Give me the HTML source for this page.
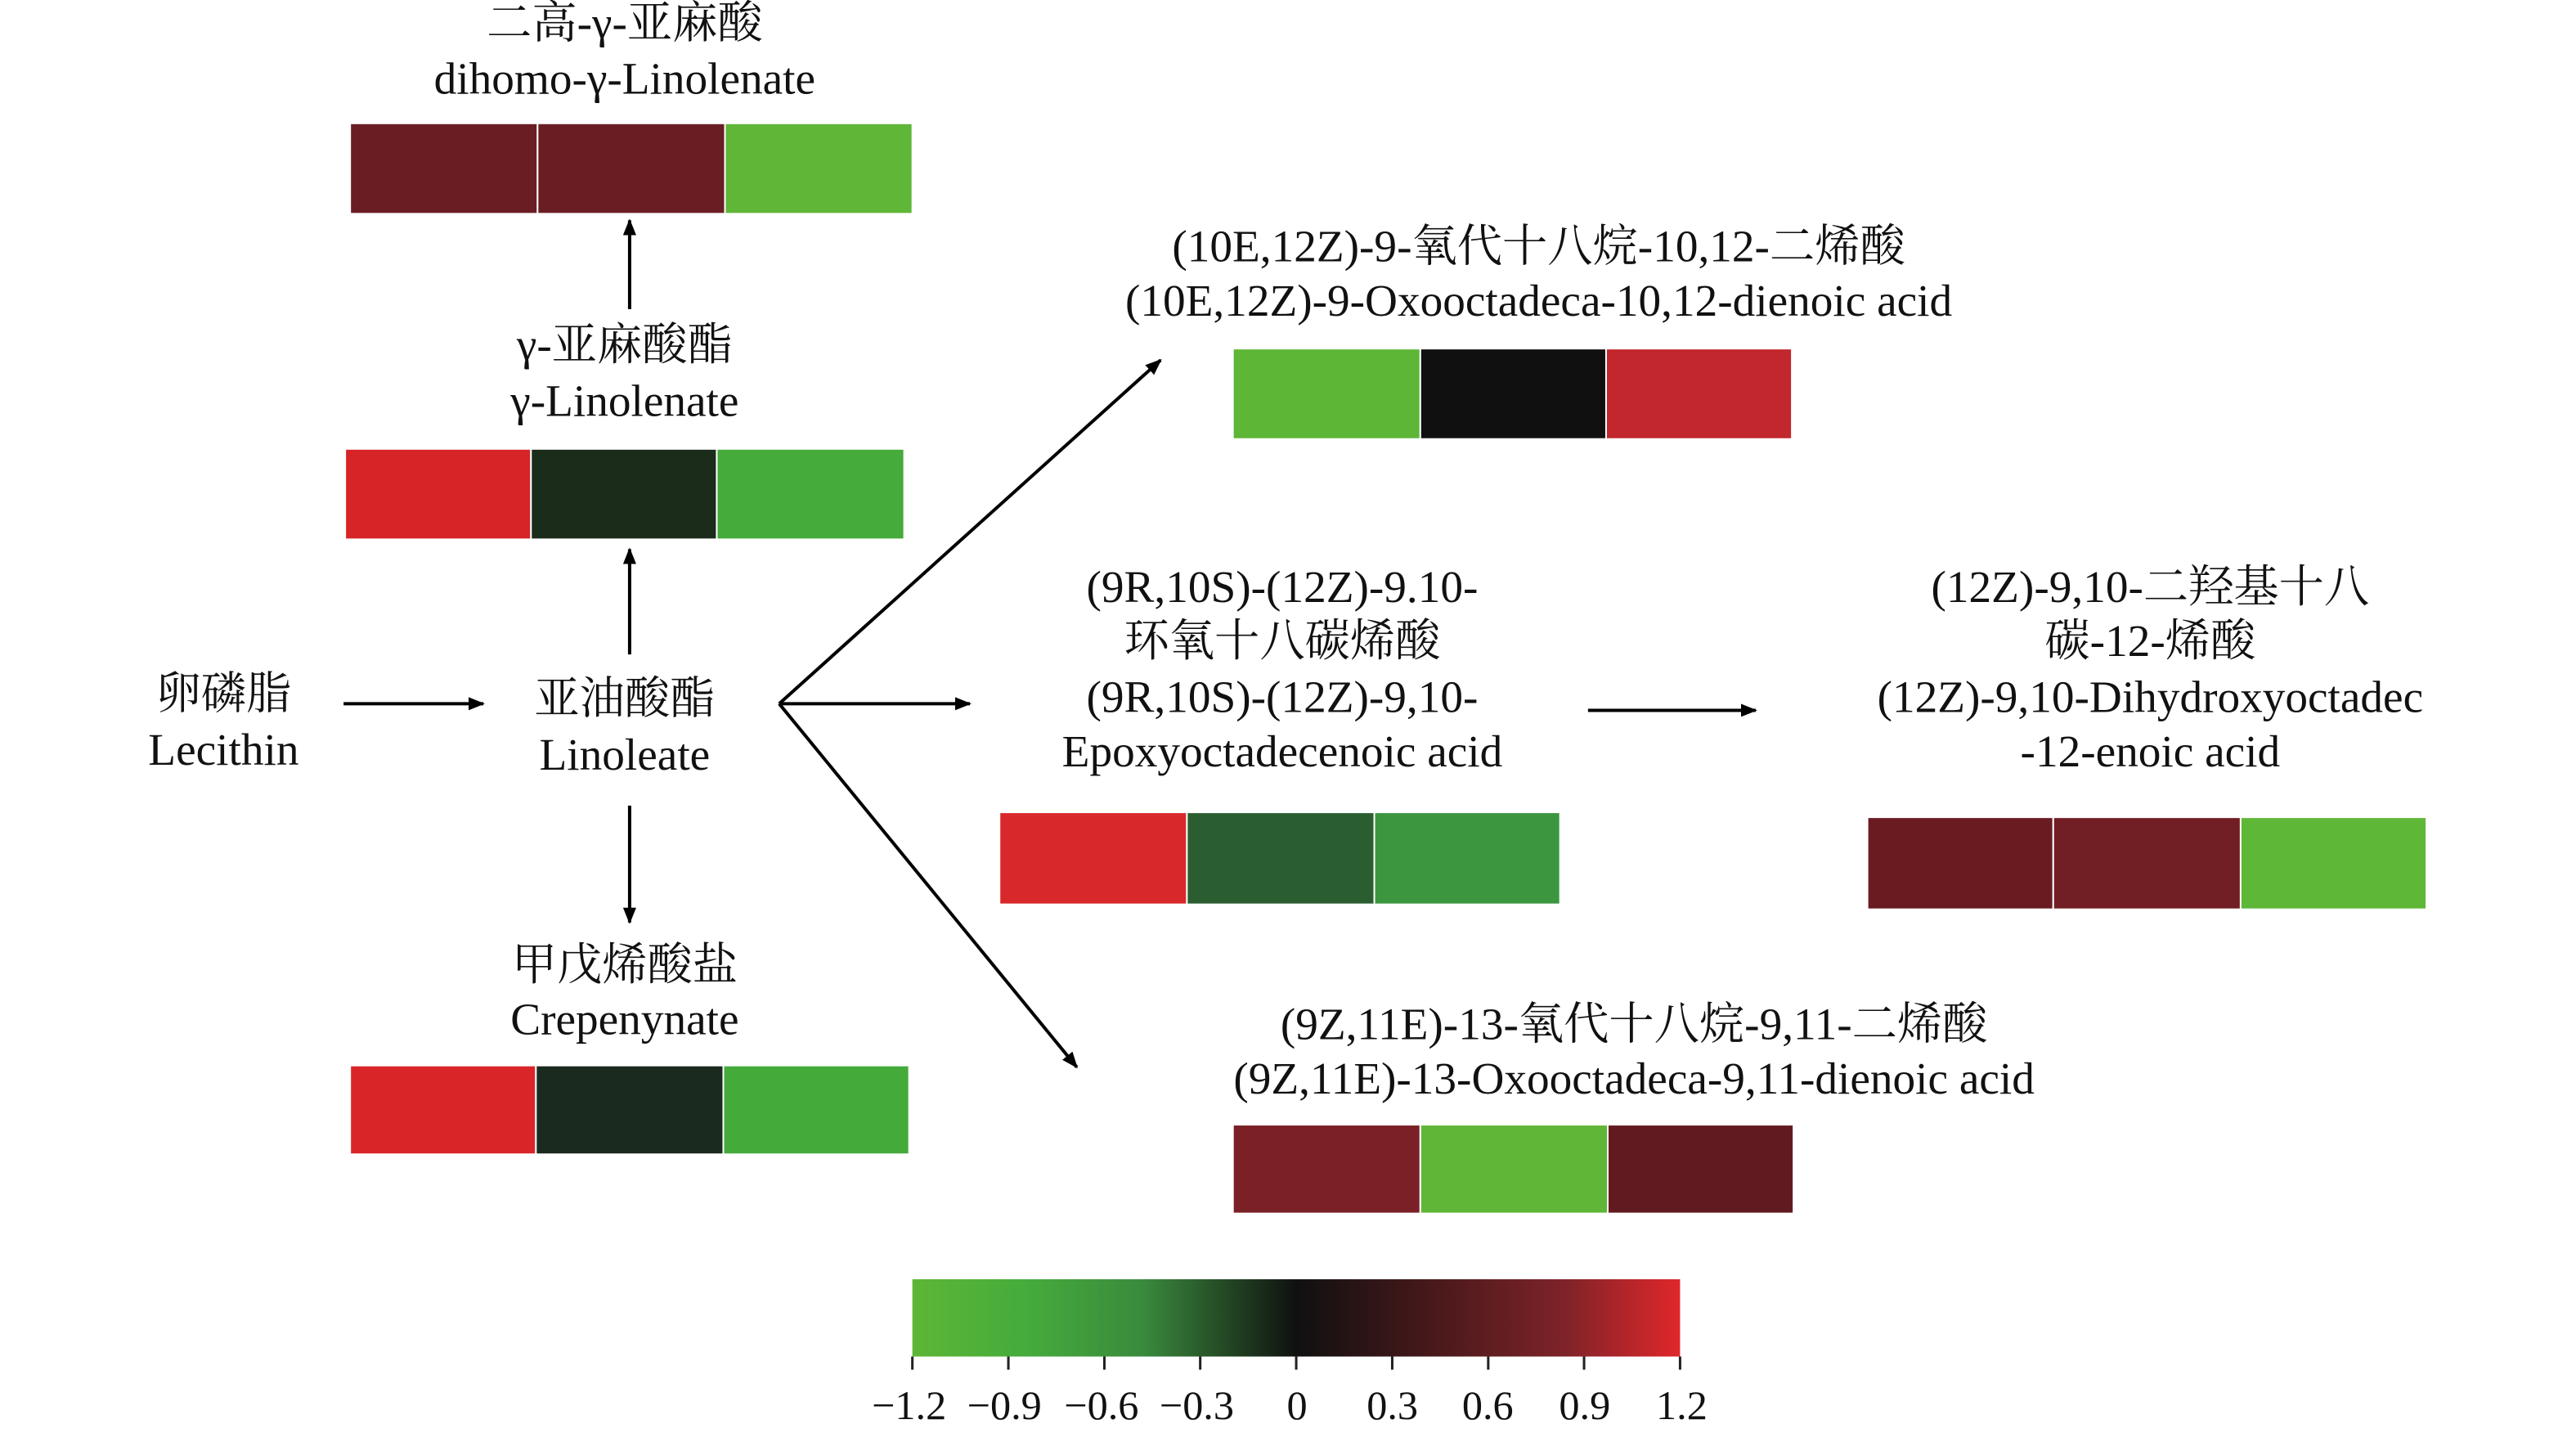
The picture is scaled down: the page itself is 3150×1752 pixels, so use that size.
<!DOCTYPE html>
<html><head><meta charset="utf-8"><style>html,body{margin:0;padding:0;background:#fff}svg{display:block}</style></head>
<body>
<svg width="3150" height="1752" viewBox="0 0 1567 871.5" preserveAspectRatio="none" xmlns="http://www.w3.org/2000/svg">
<defs>
<marker id="ah" markerWidth="10" markerHeight="10" refX="9" refY="5" orient="auto" markerUnits="userSpaceOnUse">
<path d="M0,1 L10,5 L0,9 Z" fill="#000"/></marker>
<linearGradient id="cb" x1="0" x2="1" y1="0" y2="0">
<stop offset="0" stop-color="#5db636"/><stop offset="0.15" stop-color="#45ab3b"/>
<stop offset="0.3" stop-color="#3a8a3d"/><stop offset="0.5" stop-color="#101010"/>
<stop offset="0.7" stop-color="#4f1a1c"/><stop offset="0.85" stop-color="#7e2329"/>
<stop offset="1" stop-color="#e0272a"/></linearGradient>
</defs>
<g font-family="'Liberation Serif','Noto Serif CJK SC',serif" font-size="27.5" text-anchor="middle" fill="#111">
<text x="380" y="23">二高-γ-亚麻酸</text>
<text x="380" y="57">dihomo-γ-Linolenate</text>
<text x="380" y="219">γ-亚麻酸酯</text>
<text x="380" y="253">γ-Linolenate</text>
<text x="136" y="431">卵磷脂</text>
<text x="136" y="465">Lecithin</text>
<text x="380" y="434">亚油酸酯</text>
<text x="380" y="468">Linoleate</text>
<text x="380" y="596">甲戊烯酸盐</text>
<text x="380" y="629">Crepenynate</text>
<text x="936" y="159">(10E,12Z)-9-氧代十八烷-10,12-二烯酸</text>
<text x="936" y="192">(10E,12Z)-9-Oxooctadeca-10,12-dienoic acid</text>
<text x="780" y="366">(9R,10S)-(12Z)-9.10-</text>
<text x="780" y="399">环氧十八碳烯酸</text>
<text x="780" y="433">(9R,10S)-(12Z)-9,10-</text>
<text x="780" y="466">Epoxyoctadecenoic acid</text>
<text x="1308" y="366">(12Z)-9,10-二羟基十八</text>
<text x="1308" y="399">碳-12-烯酸</text>
<text x="1308" y="433">(12Z)-9,10-Dihydroxyoctadec</text>
<text x="1308" y="466">-12-enoic acid</text>
<text x="994" y="632">(9Z,11E)-13-氧代十八烷-9,11-二烯酸</text>
<text x="994" y="665">(9Z,11E)-13-Oxooctadeca-9,11-dienoic acid</text>
</g>
<g stroke="#fff" stroke-width="1">
<rect x="213" y="75" width="114" height="55" fill="#6a1d23"/><rect x="327" y="75" width="114" height="55" fill="#6b1d24"/><rect x="441" y="75" width="114" height="55" fill="#5fb637"/>
<rect x="210" y="273" width="113" height="55" fill="#d62427"/><rect x="323" y="273" width="113" height="55" fill="#1c2c1a"/><rect x="436" y="273" width="114" height="55" fill="#45ab3b"/>
<rect x="213" y="648" width="113" height="54" fill="#d92528"/><rect x="326" y="648" width="114" height="54" fill="#1b2a1e"/><rect x="440" y="648" width="113" height="54" fill="#44ab3b"/>
<rect x="750" y="212" width="114" height="55" fill="#5db636"/><rect x="864" y="212" width="113" height="55" fill="#101010"/><rect x="977" y="212" width="113" height="55" fill="#c1272c"/>
<rect x="608" y="494" width="114" height="56" fill="#d9282b"/><rect x="722" y="494" width="114" height="56" fill="#2a5e31"/><rect x="836" y="494" width="113" height="56" fill="#3b963f"/>
<rect x="1136" y="497" width="113" height="56" fill="#6a1b22"/><rect x="1249" y="497" width="114" height="56" fill="#711e24"/><rect x="1363" y="497" width="113" height="56" fill="#5fb737"/>
<rect x="750" y="684" width="114" height="54" fill="#7a2026"/><rect x="864" y="684" width="114" height="54" fill="#5fb637"/><rect x="978" y="684" width="113" height="54" fill="#611b20"/>
</g>
<g stroke="#000" stroke-width="2" fill="none" marker-end="url(#ah)">
<line x1="383" y1="188" x2="383" y2="134"/>
<line x1="383" y1="398" x2="383" y2="334"/>
<line x1="209" y1="428" x2="294" y2="428"/>
<line x1="383" y1="490" x2="383" y2="561"/>
<line x1="474" y1="428" x2="706" y2="219"/>
<line x1="474" y1="428" x2="590" y2="428"/>
<line x1="474" y1="428" x2="655" y2="649"/>
<line x1="966" y1="432" x2="1068" y2="432"/>
</g>
<rect x="555" y="778" width="467" height="47" fill="url(#cb)"/>
<g stroke="#222" stroke-width="1.5">
<line x1="555" y1="825" x2="555" y2="833"/><line x1="613.4" y1="825" x2="613.4" y2="833"/><line x1="671.8" y1="825" x2="671.8" y2="833"/><line x1="730.1" y1="825" x2="730.1" y2="833"/><line x1="788.5" y1="825" x2="788.5" y2="833"/><line x1="846.9" y1="825" x2="846.9" y2="833"/><line x1="905.3" y1="825" x2="905.3" y2="833"/><line x1="963.6" y1="825" x2="963.6" y2="833"/><line x1="1022" y1="825" x2="1022" y2="833"/>
</g>
<g font-family="'Liberation Serif',serif" font-size="25" text-anchor="middle" fill="#111">
<text x="553" y="863">−1.2</text><text x="611" y="863">−0.9</text><text x="670" y="863">−0.6</text><text x="728" y="863">−0.3</text><text x="789" y="863">0</text><text x="847" y="863">0.3</text><text x="905" y="863">0.6</text><text x="964" y="863">0.9</text><text x="1023" y="863">1.2</text>
</g>
</svg>
</body></html>
